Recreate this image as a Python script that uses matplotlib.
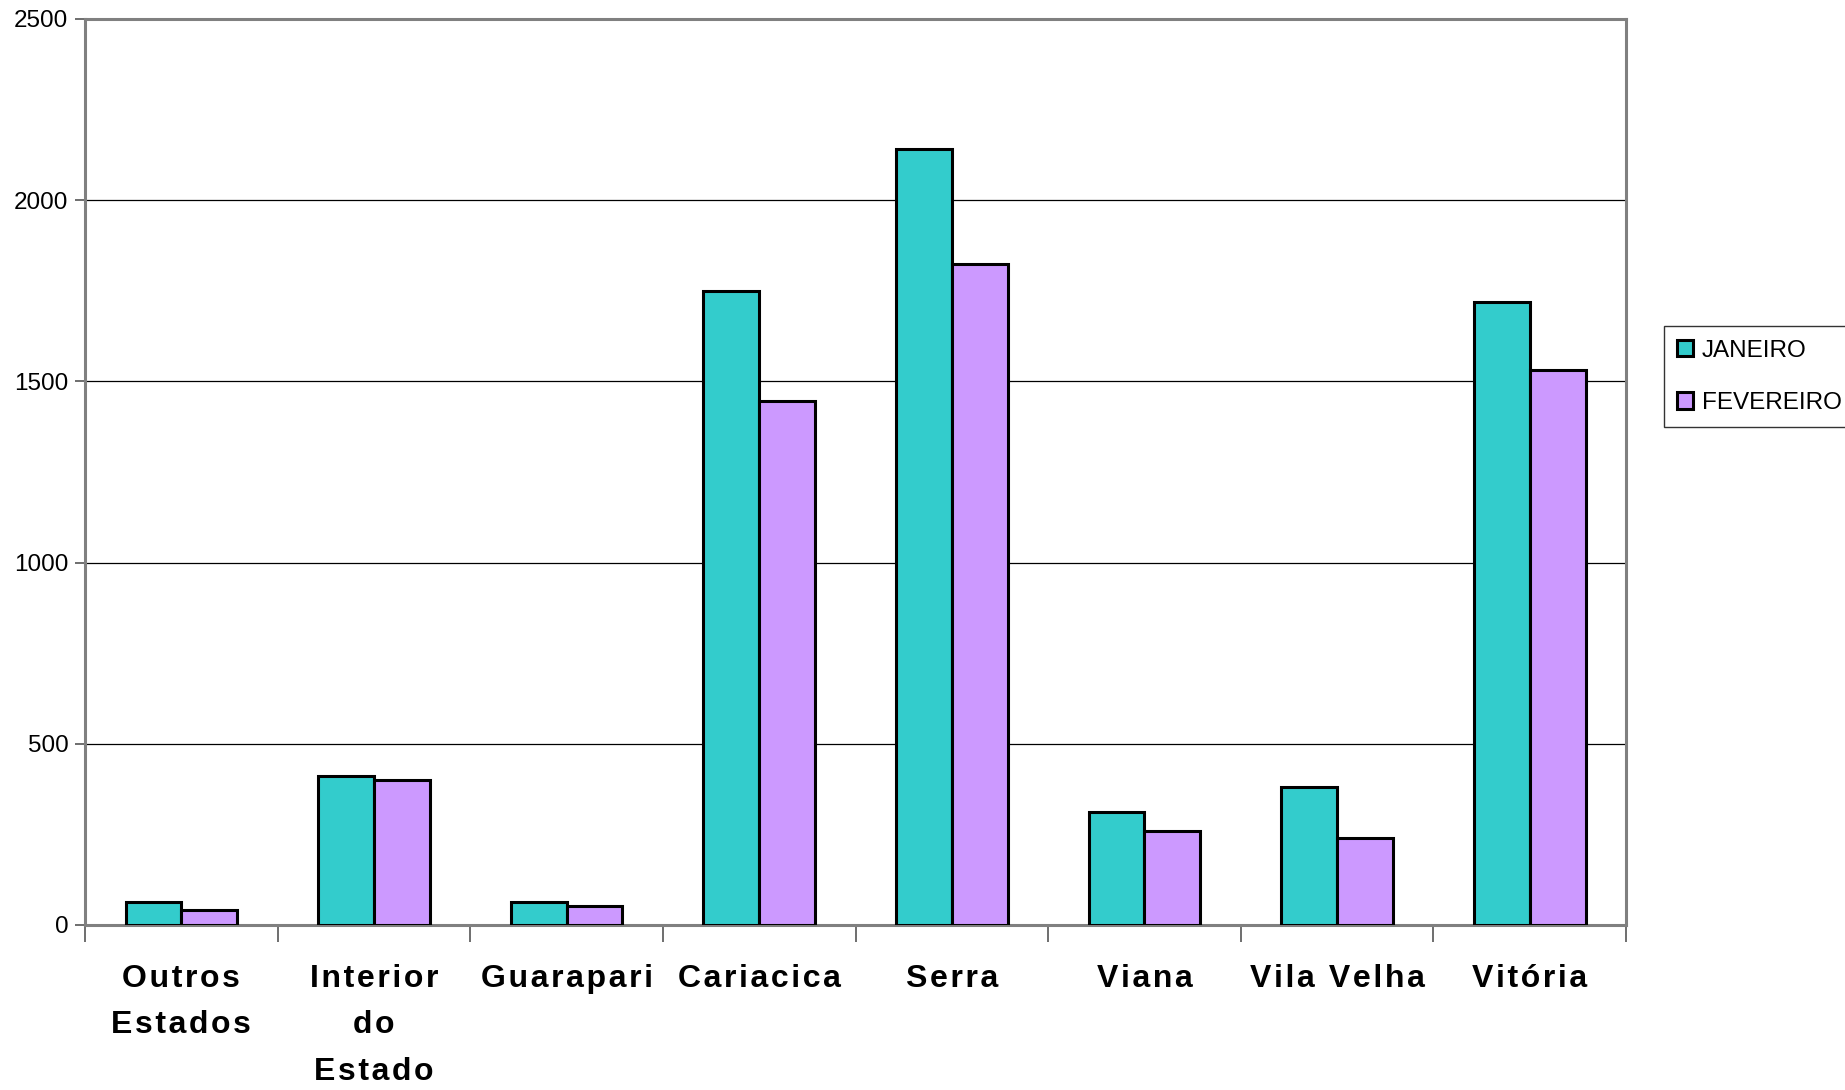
import numpy as np
import matplotlib.pyplot as plt
from matplotlib.ticker import FixedLocator, NullFormatter

# data
categorias = ['Outros\nEstados', 'Interior\ndo\nEstado', 'Guarapari', 'Cariacica',
              'Serra', 'Viana', 'Vila Velha', 'Vitória']
janeiro = [64, 412, 64, 1750, 2140, 313, 382, 1718]
fevereiro = [41, 400, 53, 1445, 1825, 260, 240, 1532]
series_nomes = ['JANEIRO', 'FEVEREIRO']
yticks = [0, 500, 1000, 1500, 2000, 2500]

plt.rcParams['font.family'] = ['Liberation Sans', 'DejaVu Sans']


def espacar(txt):
    # letter-spaced look of the original labels (hair space between letters)
    return '\n'.join('\u200a'.join(linha) for linha in txt.split('\n'))


fig = plt.figure(figsize=(18.45, 10.9), dpi=100)
ax = fig.add_axes([0.0461, 0.1514, 0.8352, 0.8312])

x = np.arange(len(categorias))
w = 0.29
ax.bar(x - w / 2, janeiro, w, color='#33CCCC', edgecolor='black', linewidth=2.2,
       label=series_nomes[0], zorder=3)
ax.bar(x + w / 2, fevereiro, w, color='#CC99FF', edgecolor='black', linewidth=2.2,
       label=series_nomes[1], zorder=3)

ax.set_xlim(-0.5, len(categorias) - 0.5)
ax.set_ylim(0, 2500)

# y axis
ax.set_yticks(yticks)
ax.set_yticklabels([str(v) for v in yticks], fontsize=17.5)
ax.yaxis.grid(True, color='black', linewidth=0.9, zorder=0)
ax.tick_params(axis='y', length=7, width=1.2, color='#555555', pad=5)

# x axis: ticks at category boundaries, labels at centres
ax.xaxis.set_major_locator(FixedLocator(np.arange(len(categorias) + 1) - 0.5))
ax.xaxis.set_major_formatter(NullFormatter())
ax.xaxis.set_minor_locator(FixedLocator(x))
ax.set_xticklabels([espacar(c) for c in categorias], minor=True, fontsize=23,
                   fontweight='bold', linespacing=1.72, va='top')
ax.tick_params(axis='x', which='major', length=12, width=1.2, color='#555555')
ax.tick_params(axis='x', which='minor', length=0, pad=28)

for s in ax.spines.values():
    s.set_color('#808080')
    s.set_linewidth(2.2)

leg = ax.legend(loc='center left', bbox_to_anchor=(1.0247, 0.605), fontsize=17.5,
                frameon=True, fancybox=False, edgecolor='black', borderpad=0.55,
                handlelength=0.65, handleheight=0.65, handletextpad=0.35,
                labelspacing=1.25, borderaxespad=0)
leg.get_frame().set_linewidth(1.0)

fig.savefig('out.png', dpi=100)
